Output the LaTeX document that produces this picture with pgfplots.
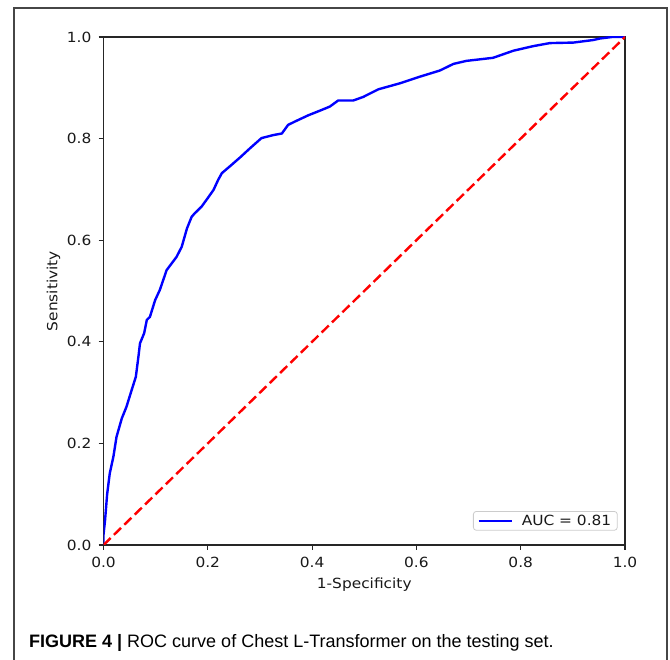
\documentclass[border=0pt]{standalone}
\usepackage{fontspec}
\setmainfont{DejaVu Sans}[FakeStretch=1.1]
\newfontfamily\capfont{Liberation Sans}
\usepackage{pgfplots}
\pgfplotsset{compat=1.18}

\definecolor{rocblue}{RGB}{0,0,255}
\definecolor{chancered}{RGB}{255,0,0}
\definecolor{framegray}{RGB}{70,70,70}

\begin{document}
\begin{tikzpicture}[x=1pt,y=1pt]
\useasboundingbox (0,0) rectangle (670,660);
\draw[line width=1.3pt, framegray] (14,-2) -- (14,652) -- (667,652) -- (667,-2);
\begin{axis}[
    at={(103.5pt,115pt)}, anchor=south west,
    scale only axis, width=521.5pt, height=508pt,
    xmin=0, xmax=1, ymin=0, ymax=1,
    axis line style={line width=1.2pt, black!85},
    xtick={0,0.2,0.4,0.6,0.8,1},
    xticklabels={0.0,0.2,0.4,0.6,0.8,1.0},
    ytick={0,0.2,0.4,0.6,0.8,1},
    yticklabels={0.0,0.2,0.4,0.6,0.8,1.0},
    xtick pos=bottom, ytick pos=left,
    tick align=outside,
    major tick length=5pt,
    tick style={line width=1.1pt, black!85},
    tick label style={font=\fontsize{14}{16}\selectfont, text=black!90, inner sep=0pt},
    xticklabel style={yshift=-7pt},
    yticklabel style={xshift=-7pt},
    xlabel={1-Specificity},
    ylabel={Sensitivity},
    label style={font=\fontsize{14}{16}\selectfont, text=black!90, inner sep=0pt},
    xlabel style={at={(axis description cs:0.5,0)}, anchor=north, yshift=-33pt},
    ylabel style={at={(axis description cs:0,0.5)}, anchor=north, yshift=57pt},
    legend style={at={(1,0)}, anchor=south east, xshift=-7.3pt, yshift=14.3pt,
        draw=black!20, rounded corners=3pt, line width=0.8pt,
        font=\fontsize{14}{16}\selectfont, text=black!90,
        inner xsep=4pt, inner ysep=1.5pt},
    legend cell align=left,
    legend image code/.code={\draw[#1] (0pt,0pt) -- (33pt,0pt); \path (40pt,0pt);},
]
\addplot[rocblue, line width=2.4pt, line join=round] coordinates {
(0,0) (0.000,0.020) (0.003,0.049) (0.007,0.100) (0.012,0.141) (0.019,0.174)
(0.025,0.213) (0.035,0.249) (0.044,0.272) (0.054,0.305) (0.062,0.331)
(0.067,0.371) (0.070,0.397) (0.078,0.417) (0.083,0.443) (0.089,0.449)
(0.099,0.482) (0.108,0.502) (0.121,0.541) (0.140,0.567) (0.150,0.587)
(0.160,0.623) (0.169,0.646) (0.175,0.653) (0.188,0.666) (0.200,0.683)
(0.211,0.699) (0.220,0.719) (0.227,0.732) (0.243,0.746) (0.262,0.763)
(0.281,0.781) (0.303,0.801) (0.326,0.807) (0.342,0.810) (0.354,0.827)
(0.370,0.835) (0.393,0.846) (0.415,0.855) (0.434,0.863) (0.450,0.875)
(0.479,0.875) (0.498,0.882) (0.527,0.897) (0.569,0.909) (0.607,0.922)
(0.645,0.934) (0.671,0.947) (0.696,0.953) (0.747,0.959) (0.786,0.973)
(0.824,0.982) (0.856,0.988) (0.901,0.989) (0.939,0.994) (0.952,0.997)
(0.975,1.000) (1,1)
};
\addlegendentry{AUC = 0.81}
\addplot[chancered, line width=2.4pt, dash pattern=on 10pt off 4.5pt, forget plot] coordinates {(0,0) (1,1)};
\end{axis}
\node[anchor=base west, inner sep=0pt, font=\capfont\fontsize{18}{20}\selectfont] at (29,12)
    {\textbf{FIGURE 4 |} ROC curve of Chest L-Transformer on the testing set.};
\end{tikzpicture}
\end{document}
